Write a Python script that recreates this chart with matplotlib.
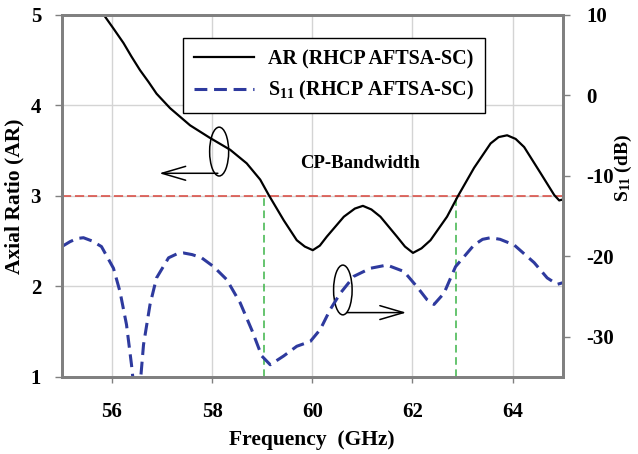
import matplotlib.pyplot as plt
from matplotlib.patches import Ellipse

plt.rcParams['font.family'] = ['Liberation Serif', 'DejaVu Serif']
plt.rcParams['font.weight'] = 'bold'
plt.rcParams['mathtext.default'] = 'regular'
plt.rcParams['axes.unicode_minus'] = False

# AR curve (left axis)
ar_freq = [55.80, 56.03, 56.23, 56.39, 56.56, 56.73, 56.89, 57.16, 57.56, 57.96, 58.36,
           58.69, 58.96, 59.13, 59.43, 59.69, 59.85, 60.01, 60.15, 60.29, 60.63,
           60.85, 61.01, 61.18, 61.36, 61.69, 61.85, 62.01, 62.18, 62.36, 62.69,
           62.91, 63.23, 63.56, 63.72, 63.89, 64.06, 64.23, 64.56, 64.83, 64.93, 65.00]
ar_vals = [5.03, 4.85, 4.69, 4.54, 4.39, 4.26, 4.13, 3.97, 3.78, 3.64, 3.51,
           3.36, 3.18, 3.01, 2.73, 2.51, 2.44, 2.40, 2.45, 2.55, 2.77,
           2.86, 2.89, 2.85, 2.77, 2.55, 2.44, 2.37, 2.42, 2.51, 2.77,
           3.00, 3.31, 3.58, 3.65, 3.67, 3.63, 3.54, 3.25, 3.01, 2.95, 2.96]

# S11 curve (right axis, dB)
s11_freq = [55.00, 55.16, 55.30, 55.43, 55.60, 55.79, 56.03, 56.16, 56.29, 56.39, 56.49,
            56.58, 56.63, 56.76, 56.89, 57.13, 57.30, 57.43, 57.60, 57.79, 58.03,
            58.29, 58.56, 58.80, 58.99, 59.16, 59.43, 59.69, 59.96, 60.16, 60.36,
            60.56, 60.83, 61.16, 61.49, 61.83, 62.09, 62.29, 62.43, 62.63, 62.86,
            63.23, 63.40, 63.56, 63.75, 64.03, 64.43, 64.69, 64.89, 65.00]
s11_vals = [-18.8, -18.2, -17.8, -17.7, -18.1, -18.8, -21.5, -24.4, -28.5, -33.5, -39.5,
            -34.7, -31.0, -26.0, -22.7, -20.2, -19.7, -19.6, -19.8, -20.2, -21.3,
            -22.9, -25.8, -29.3, -32.4, -33.5, -32.4, -31.2, -30.6, -29.1, -26.6,
            -24.6, -22.5, -21.5, -21.1, -21.9, -23.8, -25.4, -26.0, -24.6, -21.3,
            -18.6, -17.9, -17.7, -17.9, -18.6, -20.8, -22.7, -23.5, -23.3]

x_ticks = [56, 58, 60, 62, 64]
ar_ticks = [1, 2, 3, 4, 5]
s11_ticks = [-30, -20, -10, 0, 10]
cp_edges = [59.03, 62.86]
ar_limit = 3

spine_col = '#808080'

fig = plt.figure(figsize=(6.38, 4.54), dpi=100)
ax = fig.add_axes([0.097, 0.170, 0.785, 0.797])
ax2 = ax.twinx()

ax.set_xlim(55, 65)
ax.set_ylim(1, 5)
ax2.set_ylim(-35, 10)
ax.set_xticks(x_ticks)
ax.set_yticks(ar_ticks)
ax2.set_yticks(s11_ticks)

ax.grid(True, color='#d4d4d4', lw=1)
ax.set_axisbelow(True)

ax.axhline(ar_limit, color='#d9453c', lw=1.1, dashes=(6, 2.5))
for f in cp_edges:
    ax.plot([f, f], [1, ar_limit], color='#3cb448', lw=1.1, dashes=(5, 3))

l1, = ax.plot(ar_freq, ar_vals, color='black', lw=1.6, label='AR (RHCP AFTSA-SC)')
l2, = ax2.plot(s11_freq, s11_vals, color='#2e3a9e', lw=2.2, dashes=(4.2, 2.2),
               label='S$_{11}$ (RHCP AFTSA-SC)')

# annotation ellipses + arrows
ax.add_patch(Ellipse((58.14, 3.49), 0.38, 0.54, fill=False, ec='black', lw=1.1))
ax.annotate('', xy=(56.89, 3.25), xytext=(58.17, 3.25),
            arrowprops=dict(arrowstyle='->, head_length=1.7, head_width=0.5', lw=1.1, color='black'))
ax.add_patch(Ellipse((60.61, 1.96), 0.37, 0.55, fill=False, ec='black', lw=1.1))
ax.annotate('', xy=(61.93, 1.71), xytext=(60.63, 1.71),
            arrowprops=dict(arrowstyle='->, head_length=1.7, head_width=0.5', lw=1.1, color='black'))

ax.text(60.96, 3.36, 'CP-Bandwidth', fontsize=13.5, fontweight='bold', ha='center', va='center')

leg = ax2.legend(handles=[l1, l2], loc='upper left', bbox_to_anchor=(0.2415, 0.936),
                 fontsize=14.5, frameon=True, fancybox=False, edgecolor='black',
                 handlelength=3.0, borderpad=0.55, labelspacing=0.5, handletextpad=0.7,
                 borderaxespad=0)
leg.get_frame().set_linewidth(1.0)
leg.get_frame().set_alpha(1)

for a in [ax, ax2]:
    for s in a.spines.values():
        s.set_color(spine_col)
        s.set_linewidth(2)

ax.tick_params(axis='x', direction='out', length=4, width=1, color=spine_col, pad=14, labelsize=15)
ax.tick_params(axis='y', direction='out', length=5, width=1, color=spine_col, pad=10, labelsize=15)
ax2.tick_params(axis='y', direction='out', length=5, width=1, color=spine_col, pad=12, labelsize=15)

ax.set_xlabel('Frequency  (GHz)', fontsize=15.5, fontweight='bold', labelpad=6)
ax.set_ylabel('Axial Ratio (AR)', fontsize=15.5, fontweight='bold')
ax.yaxis.set_label_coords(-0.074, 0.5)
ax2.set_ylabel('S$_{11}$ (dB)', fontsize=14, fontweight='bold', rotation=90)
ax2.yaxis.set_label_coords(1.1, 0.577)

plt.savefig('out.png', dpi=100)
